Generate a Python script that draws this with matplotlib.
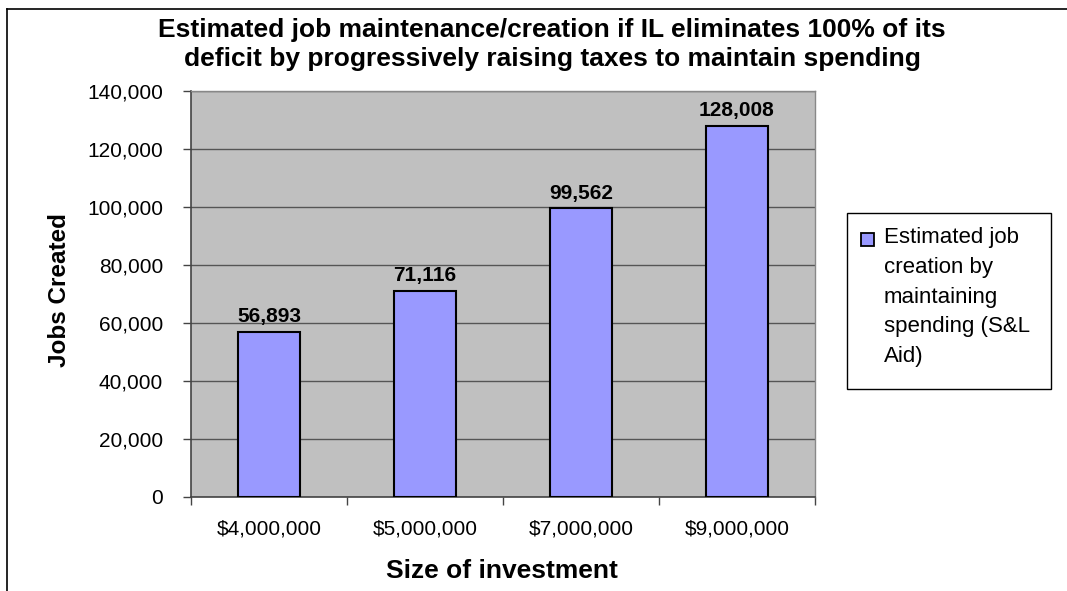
import numpy as np
import matplotlib.pyplot as plt
from matplotlib.lines import Line2D
from matplotlib.patches import Rectangle
from matplotlib.ticker import FuncFormatter, FixedLocator

plt.rcParams['font.family'] = ['Liberation Sans', 'DejaVu Sans']

# investment sizes and estimated jobs from maintaining S&L aid
investment = [4000000, 5000000, 7000000, 9000000]
jobs_created = [56893, 71116, 99562, 128008]
series_label = 'Estimated job\ncreation by\nmaintaining\nspending (S&L\nAid)'
title_lines = ['Estimated job maintenance/creation if IL eliminates 100% of its',
               'deficit by progressively raising taxes to maintain spending']

W, H = 1067, 591
fig = plt.figure(figsize=(W / 100, H / 100), dpi=100)
fig.patch.set_facecolor('white')

def px(xp, yp):
    # pixel position (from top-left) -> figure fraction
    return xp / W, 1 - yp / H

# plot area in pixel coordinates
left, right, top, bottom = 191, 815, 91, 497
ax = fig.add_axes([left / W, 1 - bottom / H, (right - left) / W, (bottom - top) / H])
ax.set_facecolor('#C0C0C0')

x = np.arange(len(investment))
bar_color = '#9999FF'
bars = ax.bar(x, jobs_created, width=0.4, color=bar_color, edgecolor='black',
              linewidth=1.5, zorder=3)

for b, v in zip(bars, jobs_created):
    ax.annotate('{:,}'.format(v), (b.get_x() + b.get_width() / 2, v),
                xytext=(0, 4), textcoords='offset points', ha='center', va='bottom',
                fontsize=15, fontweight='bold')

ax.set_xlim(-0.5, len(investment) - 0.5)
ax.set_ylim(0, 140000)
ax.set_yticks(np.arange(0, 140001, 20000))
ax.yaxis.set_major_formatter(FuncFormatter(lambda v, p: '{:,.0f}'.format(v)))
ax.grid(axis='y', color='#555555', linewidth=1, zorder=1)
ax.set_axisbelow(True)

# category labels centred, tick marks between categories
ax.set_xticks(x)
ax.set_xticklabels(['${:,}'.format(v) for v in investment])
ax.xaxis.set_minor_locator(FixedLocator(np.arange(-0.5, len(investment), 1.0)))
ax.tick_params(axis='x', which='major', length=0, pad=16, labelsize=15)
ax.tick_params(axis='x', which='minor', length=6, width=1, color='#444444', direction='out')
ax.tick_params(axis='y', length=6, width=1, color='#444444', pad=14, labelsize=15)

for side in ['left', 'bottom']:
    ax.spines[side].set_color('#444444')
    ax.spines[side].set_linewidth(1.2)
for side in ['top', 'right']:
    ax.spines[side].set_color('#888888')
    ax.spines[side].set_linewidth(1)

# two-line title
for line, base in zip(title_lines, [37, 66]):
    fig.text(*px(552, base), line, ha='center', va='baseline',
             fontsize=19, fontweight='bold')
fig.text(*px(59, 290), 'Jobs Created', rotation=90, ha='center', va='center',
         fontsize=17.5, fontweight='bold')
fig.text(*px(502, 578), 'Size of investment', ha='center', va='baseline',
         fontsize=19, fontweight='bold')

# legend box with the swatch next to the first line of text
lx0, ly0, lx1, ly1 = 847, 213, 1051, 389
fig.add_artist(Rectangle(px(lx0, ly1), (lx1 - lx0) / W, (ly1 - ly0) / H,
                         transform=fig.transFigure, facecolor='white',
                         edgecolor='black', linewidth=1))
fig.add_artist(Rectangle(px(861, 246), 13 / W, 13 / H, transform=fig.transFigure,
                         facecolor=bar_color, edgecolor='black', linewidth=1.3))
fig.text(*px(884, 227), series_label, ha='left', va='top', fontsize=16,
         linespacing=1.55, multialignment='left')

# outer frame lines along the top and left edges
fig.add_artist(Line2D([7 / W, 1], [1 - 9 / H, 1 - 9 / H], color='black', linewidth=1.2,
                      transform=fig.transFigure))
fig.add_artist(Line2D([7 / W, 7 / W], [0, 1 - 9 / H], color='black', linewidth=1.2,
                      transform=fig.transFigure))

fig.savefig('out.png', dpi=100)
